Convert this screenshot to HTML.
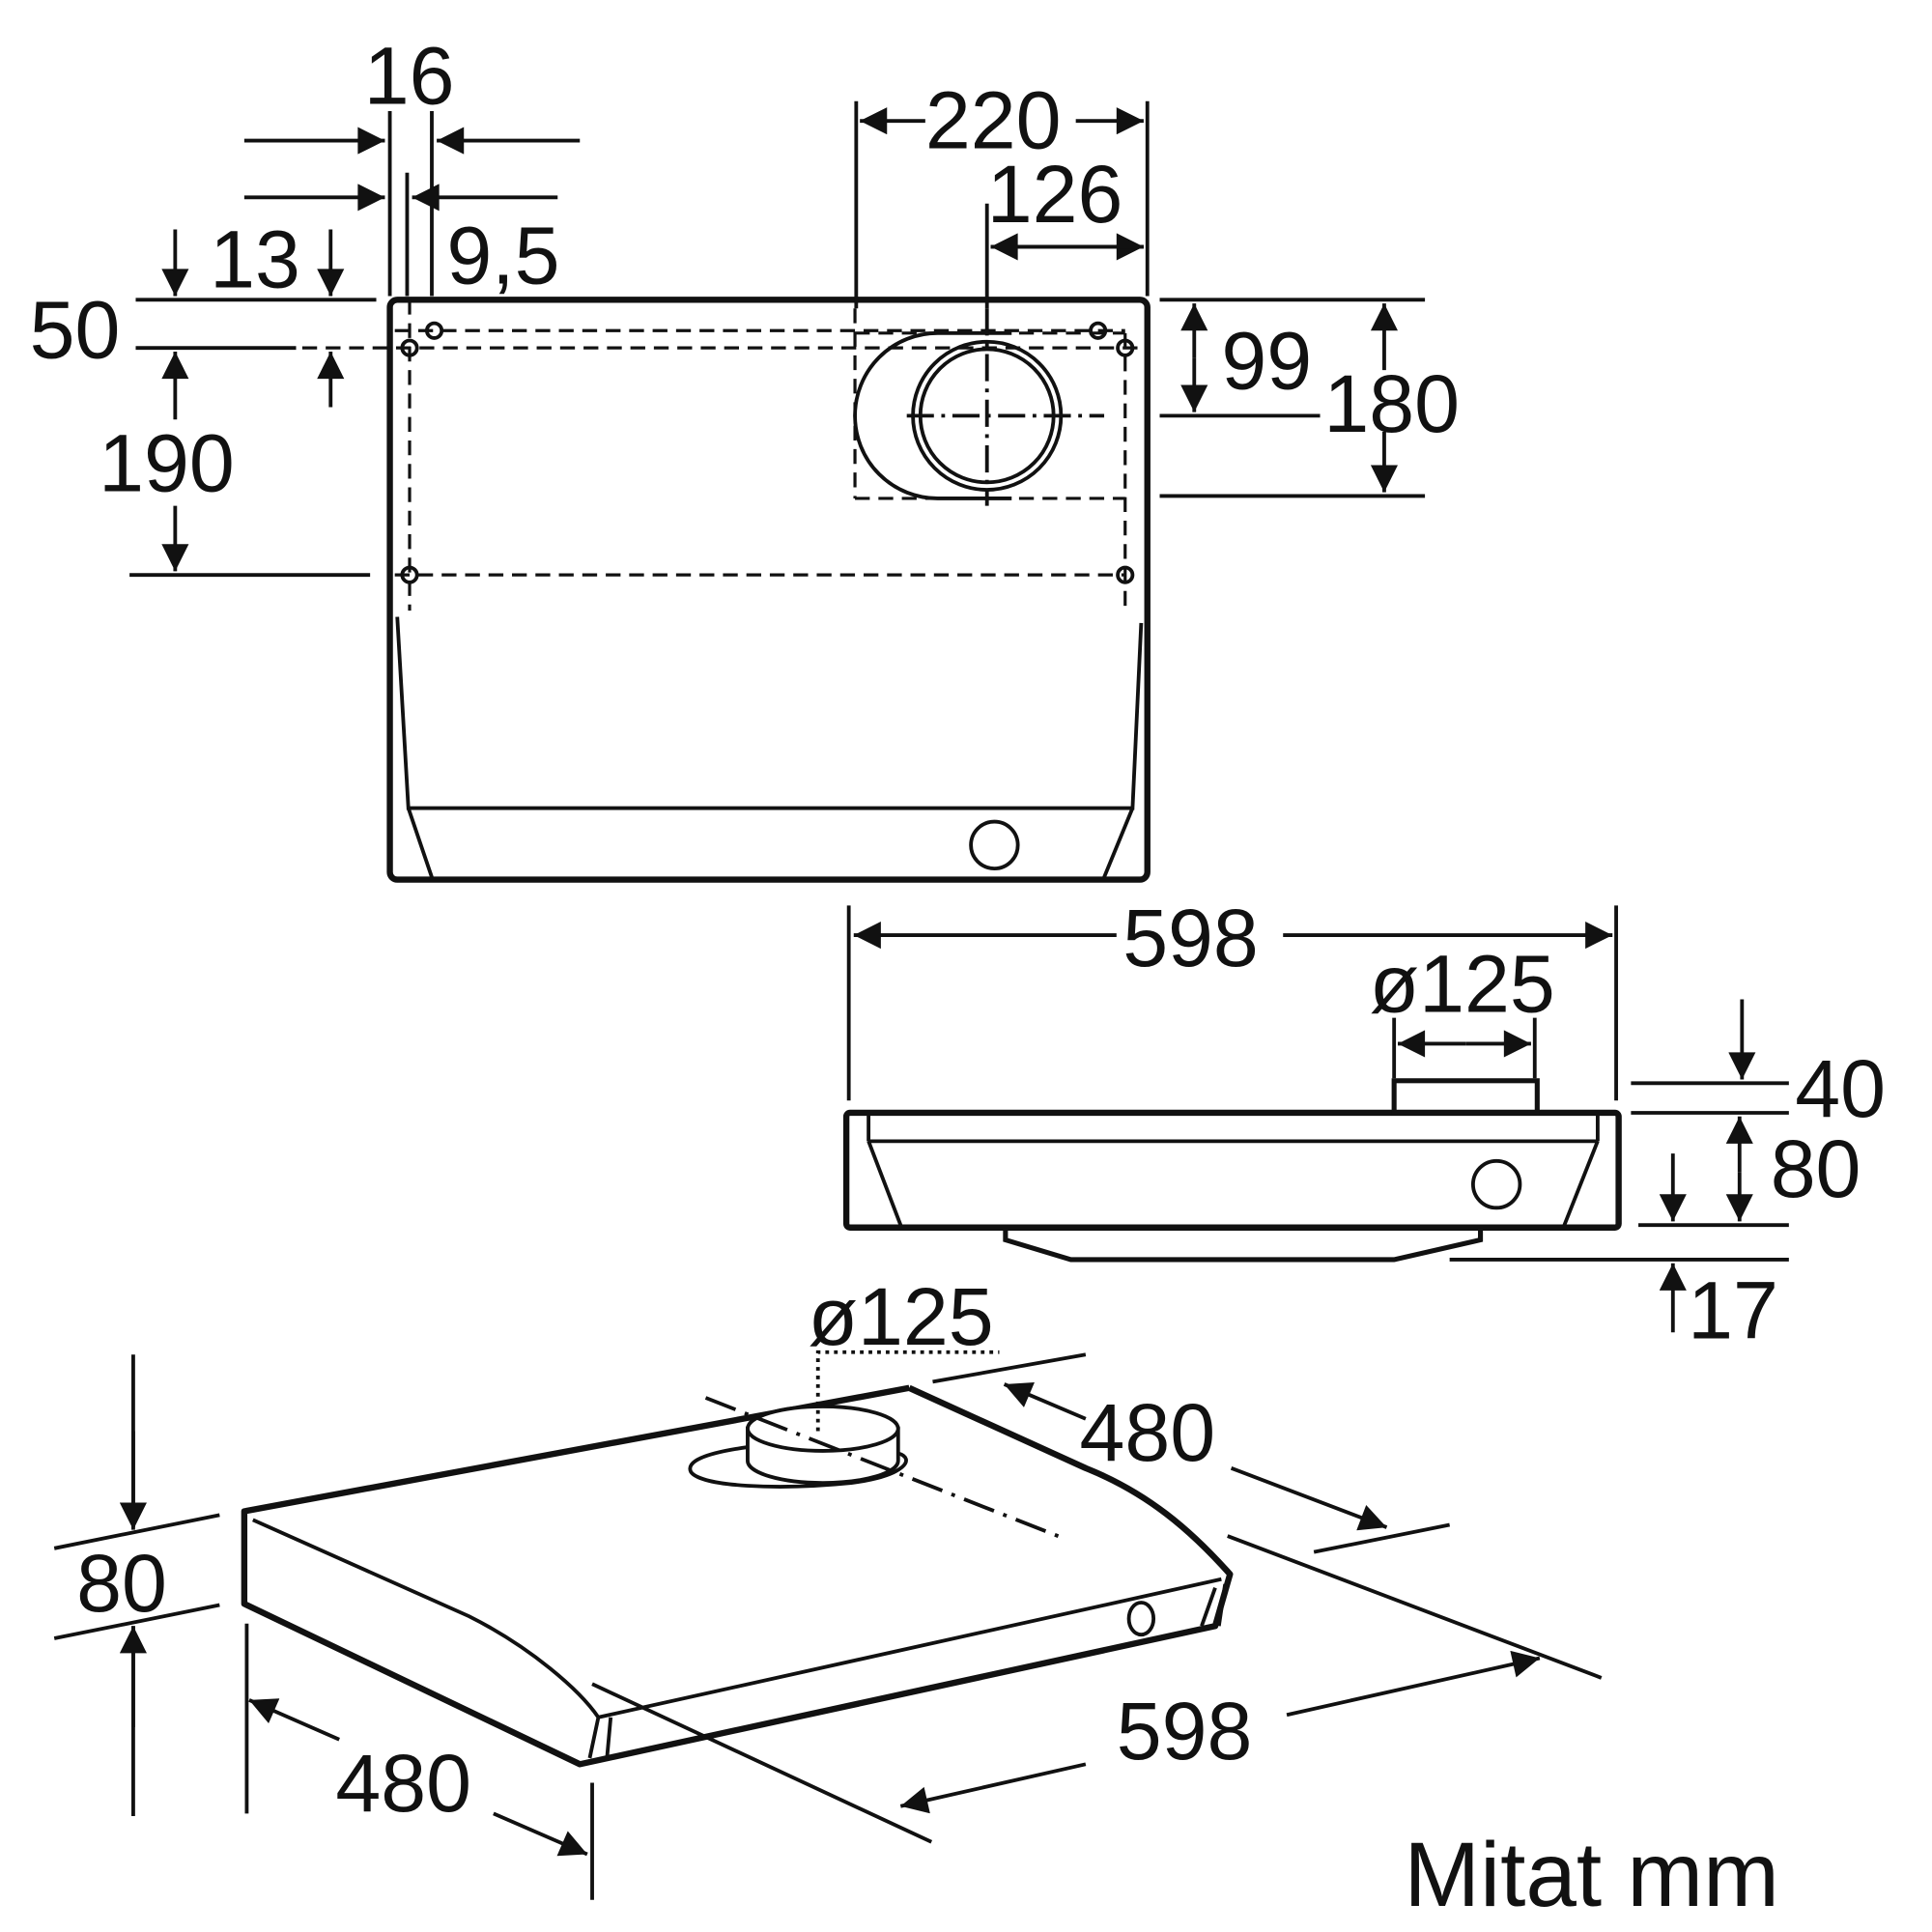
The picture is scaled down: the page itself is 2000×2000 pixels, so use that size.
<!DOCTYPE html>
<html><head><style>html,body{margin:0;padding:0;background:#fff}svg{display:block}</style></head>
<body>
<svg width="2000" height="2000" viewBox="0 0 1566 1566" xmlns="http://www.w3.org/2000/svg">
<defs>
<marker id="A" viewBox="0 0 10 10" refX="10" refY="5" markerWidth="30" markerHeight="22" markerUnits="userSpaceOnUse" orient="auto"><path d="M0,0L10,5L0,10z" fill="#111"/></marker>
</defs>
<g fill="none" stroke="#111" stroke-width="3">
<!-- TOP VIEW -->
<rect x="316" y="243" width="614" height="470" rx="6" stroke-width="5"/>
<path d="M322,500 L331,655 L918,655 L925,505" />
<path d="M331,655 L350,711 M918,655 L895,711"/>
<circle cx="806" cy="685" r="19"/>
<g stroke-dasharray="12,7" stroke-width="2.5">
<path d="M320,268H912 M245,282H930 M320,466H912 M332,243V495 M912,270V495"/>
<path d="M693,270H912 M693,404H912 M693,250V404"/>
</g>
<path d="M820,270H760A67,67 0 0 0 760,404H820"/>
<circle cx="800" cy="337" r="60"/><circle cx="800" cy="337" r="54"/>
<path d="M800,250V410 M735,337H895" stroke-dasharray="22,6,3,6"/>
<circle cx="352" cy="268" r="6"/><circle cx="890" cy="268" r="6"/>
<circle cx="332" cy="282" r="6"/><circle cx="912" cy="282" r="6"/>
<circle cx="332" cy="466" r="6"/><circle cx="912" cy="466" r="6"/>
<!-- top dims -->
<path d="M316,90V240 M350,90V240 M330,140V240 M694,82V250 M930,82V240 M800,165V250"/>
<path d="M198,114H312" marker-end="url(#A)"/><path d="M470,114H354" marker-end="url(#A)"/>
<path d="M198,160H312" marker-end="url(#A)"/><path d="M452,160H334" marker-end="url(#A)"/>
<path d="M750,98H697" marker-end="url(#A)"/><path d="M872,98H927" marker-end="url(#A)"/>
<path d="M803,200H927" marker-end="url(#A)"/><path d="M927,200H803" marker-end="url(#A)"/>
<path d="M110,243H305 M110,282H240 M105,466H300"/>
<path d="M142,186V240" marker-end="url(#A)"/><path d="M268,186V240" marker-end="url(#A)"/>
<path d="M268,330V285" marker-end="url(#A)"/><path d="M142,340V285" marker-end="url(#A)"/>
<path d="M142,410V463" marker-end="url(#A)"/>
<path d="M940,243H1155 M940,337H1070 M940,402H1155"/>
<path d="M968,290V246" marker-end="url(#A)"/><path d="M968,290V334" marker-end="url(#A)"/>
<path d="M1122,300V246" marker-end="url(#A)"/><path d="M1122,350V399" marker-end="url(#A)"/>
<!-- SIDE VIEW -->
<rect x="686" y="902" width="626" height="93" rx="3" stroke-width="5"/>
<path d="M704,925H1295 M704,904V925 M1295,904V925 M704,925L730,993 M1295,925L1268,993"/>
<circle cx="1213" cy="960" r="19"/>
<rect x="1130" y="876" width="116" height="26" stroke-width="4"/>
<path d="M815,997V1005L868,1021H1130L1200,1005V997" stroke-width="4"/>
<path d="M688,734V892 M1310,734V892 M1130,825V874 M1244,825V874"/>
<path d="M905,758H692" marker-end="url(#A)"/><path d="M1040,758H1307" marker-end="url(#A)"/>
<path d="M1188,846H1133" marker-end="url(#A)"/><path d="M1188,846H1241" marker-end="url(#A)"/>
<path d="M1322,878H1450 M1322,902H1450 M1328,993H1450 M1175,1021H1450"/>
<path d="M1412,810V875" marker-end="url(#A)"/>
<path d="M1410,950V905" marker-end="url(#A)"/><path d="M1410,950V990" marker-end="url(#A)"/>
<path d="M1356,935V990" marker-end="url(#A)"/><path d="M1356,1080V1024" marker-end="url(#A)"/>
<!-- ISO VIEW -->
<g stroke-width="5" stroke-linejoin="round">
<path d="M737,1125L198,1225V1300L470,1430L985,1318L997,1276C965,1240 930,1210 880,1190L737,1125"/>
</g>
<path d="M205,1232L380,1310C430,1335 470,1370 485,1392L990,1280 M485,1392L478,1425 M495,1392L492,1425 M985,1287L974,1318 M993,1284L988,1318"/>
<ellipse cx="925" cy="1312" rx="10" ry="13" stroke-width="3"/>
<path d="M606,1173C570,1178 556,1185 560,1193C568,1205 630,1208 690,1202C735,1196 742,1182 728,1178"/>
<path d="M606,1158V1184A61,18 0 0 0 728,1184V1158Z" fill="#fff"/>
<ellipse cx="667" cy="1158" rx="61" ry="18" fill="#fff"/>
<path d="M572,1133L860,1246" stroke-dasharray="26,8,3,8"/>
<path d="M663,1160V1096H810" stroke-dasharray="3,4" stroke-width="3"/>
<path d="M756,1120L880,1098 M1065,1258L1175,1236 M995,1245L1298,1360 M480,1365L755,1493"/>
<path d="M880,1150L814,1122" marker-end="url(#A)"/><path d="M998,1190L1124,1238" marker-end="url(#A)"/>
<path d="M1043,1390L1248,1344" marker-end="url(#A)"/><path d="M880,1430L730,1464" marker-end="url(#A)"/>
<path d="M44,1255L178,1228 M44,1328L178,1301 M108,1098V1238 M108,1472V1318 M200,1316V1470 M480,1445V1540"/>
<path d="M108,1160V1240" marker-end="url(#A)"/><path d="M108,1400V1318" marker-end="url(#A)"/>
<path d="M275,1410L202,1378" marker-end="url(#A)"/><path d="M400,1470L476,1503" marker-end="url(#A)"/>
</g>
<g font-family="Liberation Sans, sans-serif" font-size="66" fill="#111">
<text x="295" y="84">16</text>
<text x="750" y="120">220</text>
<text x="800" y="180">126</text>
<text x="170" y="233">13</text>
<text x="362" y="230">9,5</text>
<text x="24" y="290">50</text>
<text x="80" y="398">190</text>
<text x="990" y="315">99</text>
<text x="1073" y="350">180</text>
<text x="910" y="783">598</text>
<text x="1110" y="820">ø125</text>
<text x="1455" y="905">40</text>
<text x="1435" y="970">80</text>
<text x="1368" y="1085">17</text>
<text x="655" y="1090">ø125</text>
<text x="875" y="1184">480</text>
<text x="62" y="1306">80</text>
<text x="905" y="1426">598</text>
<text x="272" y="1468">480</text>
<text x="1138" y="1545" font-size="74">Mitat mm</text>
</g>
</svg>
</body></html>
